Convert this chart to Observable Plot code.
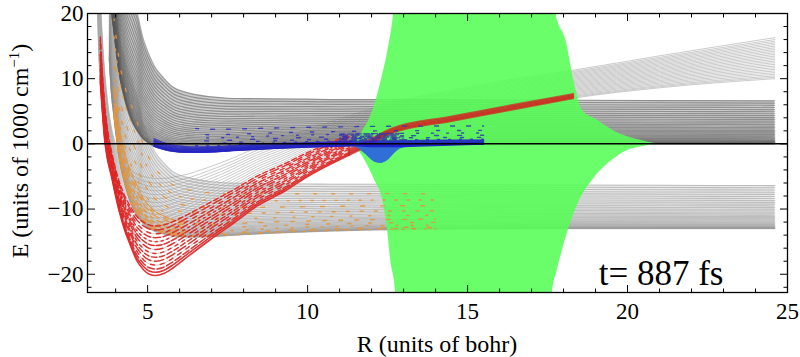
<!DOCTYPE html>
<html><head><meta charset="utf-8">
<script src="https://cdn.jsdelivr.net/npm/d3@7"></script>
<script src="https://cdn.jsdelivr.net/npm/@observablehq/plot@0.6"></script>
<style>
body{margin:0;background:#fff}
#chart svg{display:block}
#chart svg, #chart svg text{font-family:"Liberation Serif","Times New Roman",serif !important}
</style>
</head><body><div id="chart"></div>
<script>
// ---- ticks ----
const xTicksMajor = [5, 10, 15, 20, 25];
const xTicksMinor = [4, 6, 7, 8, 9, 11, 12, 13, 14, 16, 17, 18, 19, 21, 22, 23, 24];
const yTicksMajor = [-20, -10, 0, 10, 20];
const yTicksMinor = [-22, -18, -16, -14, -12, -8, -6, -4, -2, 2, 4, 6, 8, 12, 14, 16, 18];

// ---- upper (dark) bundle: lowest and highest curve, levels at right end ----
const uR    = [3.8, 3.87, 3.95, 4.1, 4.3, 4.55, 4.66, 4.85, 5.0, 5.2, 5.5, 5.8, 6.2, 6.5, 7.0, 7.5, 8.0, 9.0, 10.0, 11.0, 12.0, 13.0, 14.0, 15.5, 18.0, 21.0, 24.6];
const uLow  = [26, 20.5, 17, 11, 6.5, 3.0, 2.1, 0.8, 0.2, -0.4, -0.85, -1.15, -1.3, -1.3, -1.25, -1.1, -0.95, -0.7, -0.5, -0.35, -0.22, -0.15, -0.1, -0.05, 0, 0, 0];
const uHigh = [45, 40, 36, 30, 25.5, 22, 20.3, 16.3, 14.2, 12, 10.1, 8.7, 7.9, 7.55, 7.2, 7.0, 6.95, 6.9, 6.85, 6.8, 6.8, 6.78, 6.75, 6.72, 6.7, 6.65, 6.6];
const uLevels = [0, 0.03, 0.07, 0.12, 0.18, 0.25, 0.33, 0.42, 0.52, 0.63, 0.75, 0.88, 1.02, 1.17, 1.33, 1.5, 1.68, 1.87, 2.07, 2.28, 2.5, 2.73, 2.97, 3.22, 3.48, 3.75, 4.03, 4.32, 4.62, 4.93, 5.25, 5.58, 5.92, 6.26, 6.6];
// lower flat bundle = same curves one photon lower
const mShift = -13;

// ---- deep-well bundle rising to the right ----
const lR    = [3.42, 3.47, 3.52, 3.6, 3.66, 3.75, 3.87, 4.0, 4.12, 4.3, 4.44, 4.65, 4.87, 5.05, 5.25, 5.5, 5.8, 6.2, 6.9, 7.7, 8.4, 9.3, 10.0, 10.6, 11.3, 12.0, 12.6, 14.5, 16.0, 18.3, 21.0, 24.6];
const lLow  = [24, 14, 9.5, 4, 0.5, -2.5, -5, -8, -10.5, -13.5, -15.3, -17.8, -19.3, -20, -20.2, -19.9, -19, -17.5, -14.9, -12.1, -9.6, -7.2, -5.0, -3.4, -1.7, 0, 1.6, 3.5, 4.9, 7.0, 8.6, 10];
const lHigh = [40, 30, 23, 15, 11, 6.5, 2.5, 0, -1.5, -3.0, -3.8, -4.6, -5.0, -5.2, -5.3, -5.3, -5.1, -4.7, -3.6, -2.1, -0.6, 1.0, 2.2, 3.2, 4.3, 5.4, 6.3, 8.2, 9.6, 11.3, 13.5, 16.3];
const lWellDepths = [-20.2, -19.7, -19.2, -18.6, -18.0, -17.4, -16.8, -16.2, -15.6, -15.0, -14.4, -13.8, -13.2, -12.6, -12.0, -11.4, -10.8, -10.2, -9.6, -9.0, -8.4, -7.8, -7.2, -6.6, -6.0, -5.3];

// ---- populated segments (line indices) ----
const redSolidIdx = [0, 1];
const redUpperIdx = [0, 1, 2, 3, 4];
const redDashIdx = [2, 3, 4, 5, 6, 7, 8, 9, 10, 11, 12, 13];
const orangeIdx = [2, 4, 6, 9, 12, 15, 18, 21, 24, 27, 30];
const orangeDenseIdx = [4, 6, 8, 10, 12, 14, 16];
const blueSolidIdx = [0, 1, 2, 3, 4, 5, 6, 7, 8, 9];
const blueDashIdx = [10, 12, 14, 16, 18, 21];
const blueDenseIdx = [10, 11, 12, 13, 14, 15, 16];

// ---- green field envelope ----
const greenUpR = [11.44, 11.75, 12.0, 12.3, 12.5, 12.7, 12.85, 13.2, 17.3, 17.6, 17.75, 18.1, 18.3, 18.6, 19.0, 19.3, 19.6, 20.0, 20.4, 20.9];
const greenUpE = [0, 2.2, 4.6, 9.7, 14, 20.3, 28, 60, 60, 28, 20.3, 15.4, 10.2, 5.1, 3.8, 2.8, 1.9, 1.1, 0.55, 0];
const greenLoR = [11.44, 11.8, 12.1, 12.35, 12.5, 12.6, 12.75, 13.0, 17.4, 17.65, 17.8, 18.1, 18.5, 18.9, 19.5, 20.0, 20.5, 20.9];
const greenLoE = [0, -2.6, -5.6, -8.7, -13.3, -18, -22.8, -60, -60, -22.8, -19.5, -14, -8.7, -5.6, -2.6, -1.0, -0.4, 0];

// ---- blue packet below zero ----
const bumpR = [11.3, 11.6, 11.9, 12.1, 12.3, 12.5, 12.7, 12.9, 13.3];
const bumpE = [0, -0.8, -2.0, -2.8, -3.0, -2.6, -1.6, -0.8, -0.4];
const bandR = [11.3, 12.0, 13.0, 14.0, 15.5];
const bandE = [-0.3, -0.6, -0.6, -0.45, -0.2];

const timeLabel = "t= 887 fs";
const xLabel = "R (units of bohr)";
const yLabelMain = "E (units of 1000 cm";
const yLabelSup = "\u22121";

// ---- build tables ----
const uT = uLevels.map(v => v / uLevels[uLevels.length - 1]);
const lT = lWellDepths.map(d => (d - lWellDepths[0]) / (lWellDepths[lWellDepths.length - 1] - lWellDepths[0]));
function bundle(tag, R, lo, hi, ts, shift) {
  const rows = [];
  ts.forEach((t, i) => R.forEach((r, k) => rows.push({id: tag + i, idx: i, R: r, E: lo[k] + t * (hi[k] - lo[k]) + shift})));
  return rows;
}
const uRows = bundle("u", uR, uLow, uHigh, uT, 0);
const mRows = bundle("m", uR, uLow, uHigh, uT, mShift);
const lRows = bundle("l", lR, lLow, lHigh, lT, 0);
const uBand = uR.map((r, k) => ({R: r, lo: uLow[k], hi: uHigh[k]}));
const mBand = uR.map((r, k) => ({R: r, lo: uLow[k] + mShift, hi: uHigh[k] + mShift}));
const pick = (rows, idxs, r0, r1) => rows.filter(d => idxs.includes(d.idx) && d.R >= r0 - 1e-9 && d.R <= r1 + 1e-9);
const zip = (R, E) => R.map((r, i) => ({R: r, E: E[i]}));

const lineOpts = (extra) => Object.assign({x: "R", y: "E", z: "id", curve: "monotone-x", clip: true}, extra);
const dashSet = ["7,3", "4,6", "9,4", "5,3", "3,5", "8,5", "6,2", "2,4"];
function dashed(rows, idxs, r0, r1, style, sparse) {
  return idxs.map((i, k) => Plot.line(pick(rows, [i], r0, r1), lineOpts(Object.assign({}, style, {
    strokeDasharray: sparse ? `${2 + (k % 3)},${9 + (k * 5) % 11}` : dashSet[k % dashSet.length],
    strokeDashoffset: (k * 7) % 17
  }))));
}
const serif = "Liberation Serif";

const plot = Plot.plot({
  width: 800, height: 357,
  marginLeft: 87, marginRight: 13, marginTop: 13, marginBottom: 65,
  style: {background: "white", color: "black"},
  x: {domain: [3.12, 25], label: null},
  y: {domain: [-22.8, 20], label: null},
  marks: [
    Plot.areaY(mBand, {x: "R", y1: "lo", y2: "hi", fill: "#b4b4b4", fillOpacity: 0.3, curve: "monotone-x", clip: true}),
    Plot.line(lRows, lineOpts({stroke: "#a8a8a8", strokeWidth: 1, strokeOpacity: 0.6})),
    Plot.line(mRows, lineOpts({stroke: "#8c8c8c", strokeWidth: 1.1, strokeOpacity: 0.45})),
    Plot.areaY(uBand, {x: "R", y1: "lo", y2: "hi", fill: "#a0a0a0", fillOpacity: 0.55, curve: "monotone-x", clip: true}),
    Plot.line(uRows, lineOpts({stroke: "#555555", strokeWidth: 1.2, strokeOpacity: 0.5})),
    Plot.areaY(zip(greenUpR, greenUpE), {x: "R", y1: 0, y2: "E", fill: "#55ff55", fillOpacity: 0.88, curve: "monotone-x", clip: true}),
    Plot.areaY(zip(greenLoR, greenLoE), {x: "R", y1: "E", y2: 0, fill: "#55ff55", fillOpacity: 0.88, curve: "monotone-x", clip: true}),
    // orange on lower flat bundle
    dashed(mRows, orangeIdx, 3.95, 14.0, {stroke: "#e3963e", strokeWidth: 1.4, strokeOpacity: 0.9}, true),
    dashed(mRows, orangeDenseIdx, 3.95, 6.2, {stroke: "#e3963e", strokeWidth: 1.4, strokeOpacity: 0.9}, false),
    // red on deep well bundle
    dashed(lRows, redDashIdx, 3.52, 11.3, {stroke: "#e02424", strokeWidth: 1.5, strokeOpacity: 0.9}, false),
    Plot.line(pick(lRows, redSolidIdx, 3.52, 11.3), lineOpts({stroke: "#e02424", strokeWidth: 1.6, strokeOpacity: 0.9})),
    Plot.line(pick(lRows, redUpperIdx, 11.3, 18.3), lineOpts({stroke: "#d42020", strokeWidth: 2, strokeOpacity: 0.72})),
    // blue on upper bundle
    Plot.areaY(zip(bumpR, bumpE), {x: "R", y1: "E", y2: 0, fill: "#3070d6", curve: "monotone-x"}),
    Plot.areaY(zip(bandR, bandE), {x: "R", y1: "E", y2: 0, fill: "#1a1ac8", fillOpacity: 0.9, curve: "monotone-x"}),
    Plot.line(pick(uRows, blueSolidIdx, 5.2, 15.5), lineOpts({stroke: "#2323c8", strokeWidth: 1.3, strokeOpacity: 0.75})),
    dashed(uRows, blueDashIdx, 6.5, 15.5, {stroke: "#2b2bc0", strokeWidth: 1.4, strokeOpacity: 0.8}, true),
    dashed(uRows, blueDenseIdx, 11.0, 13.0, {stroke: "#3535a8", strokeWidth: 1.4, strokeOpacity: 0.75}, false),
    Plot.ruleY([0], {stroke: "black", strokeWidth: 1.5}),
    Plot.frame({stroke: "black", strokeWidth: 1.3}),
    // inward ticks
    Plot.axisX(xTicksMajor, {anchor: "bottom", tickSize: -7, tickFormat: () => "", label: null}),
    Plot.axisX(xTicksMinor, {anchor: "bottom", tickSize: -3.5, tickFormat: () => "", label: null}),
    Plot.axisX(xTicksMajor, {anchor: "top", tickSize: -7, tickFormat: () => "", label: null}),
    Plot.axisX(xTicksMinor, {anchor: "top", tickSize: -3.5, tickFormat: () => "", label: null}),
    Plot.axisY(yTicksMajor, {anchor: "left", tickSize: -8, tickFormat: () => "", label: null}),
    Plot.axisY(yTicksMinor, {anchor: "left", tickSize: -4.5, tickFormat: () => "", label: null}),
    Plot.axisY(yTicksMajor, {anchor: "right", tickSize: -8, tickFormat: () => "", label: null}),
    Plot.axisY(yTicksMinor, {anchor: "right", tickSize: -4.5, tickFormat: () => "", label: null}),
    // tick labels
    Plot.axisX(xTicksMajor, {anchor: "bottom", tickSize: 0, tickPadding: 10, fontSize: 23, fontFamily: serif, label: null}),
    Plot.axisY(yTicksMajor, {anchor: "left", tickSize: 0, tickPadding: 4, fontSize: 23, fontFamily: serif, label: null}),
    Plot.text([timeLabel], {text: d => d, frameAnchor: "bottom-right", textAnchor: "end", lineAnchor: "bottom", dx: -64, dy: -8, fontSize: 35, fontFamily: serif})
  ]
});
document.getElementById("chart").appendChild(plot);

const svg = d3.select(plot);
svg.append("text").attr("x", 437).attr("y", 352).attr("text-anchor", "middle")
  .style("font-size", "24px").text(xLabel);
const yl = svg.append("text").attr("transform", "translate(28,151) rotate(-90)").attr("text-anchor", "middle")
  .style("font-size", "24px");
yl.append("tspan").text(yLabelMain);
yl.append("tspan").attr("dy", -9).style("font-size", "15px").text(yLabelSup);
yl.append("tspan").attr("dy", 9).text(")");
</script>
</body></html>
